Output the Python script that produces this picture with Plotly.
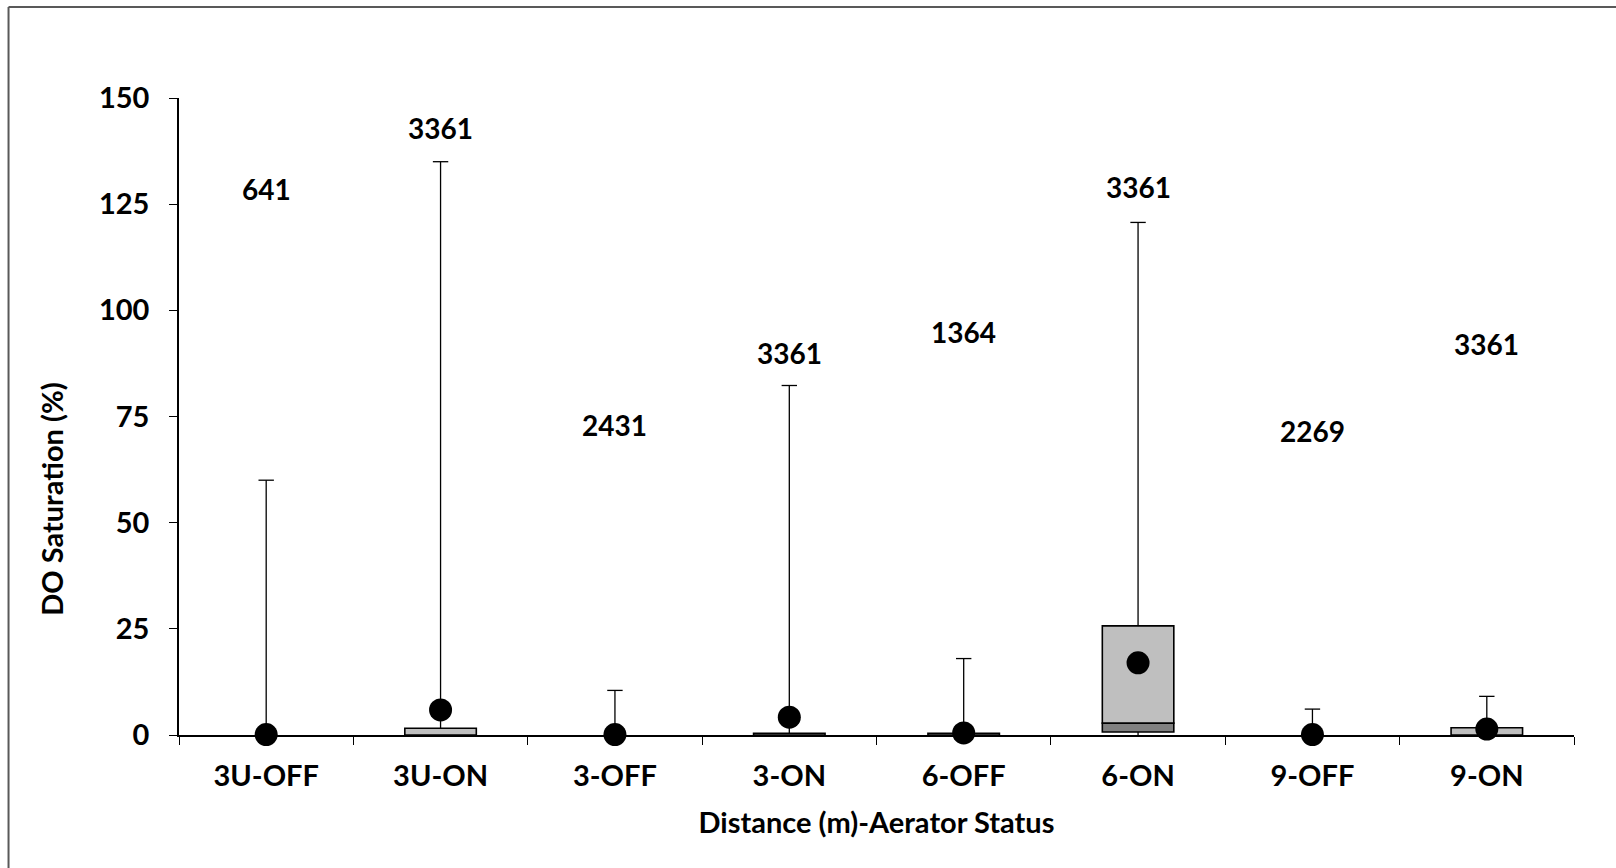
import plotly.graph_objects as go

# Box-plot summary of DO saturation (%) by distance / aerator status
categories = ["3U-OFF", "3U-ON", "3-OFF", "3-ON", "6-OFF", "6-ON", "9-OFF", "9-ON"]
minimum = [0, 0, 0, 0, 0, 0, 0, 0]
q1 = [0, 0, 0, 0, 0, 0.7, 0, 0]
median = [0, 0, 0, 0, 0, 2.8, 0, 0]
q3 = [0, 1.6, 0, 0.4, 0.4, 25.7, 0, 1.7]
maximum = [60, 135, 10.5, 82.3, 18.0, 120.7, 6.1, 9.1]
mean = [0.1, 5.9, 0.1, 4.2, 0.5, 17.0, 0.1, 1.4]
counts = ["641", "3361", "2431", "3361", "1364", "3361", "2269", "3361"]
count_label_y = [128.5, 143, 73, 90, 95, 129, 71.5, 92]

FONT = "Lato"
BLACK = "#000000"
SIZE = 29


def bold_font(size=SIZE):
    return dict(family=FONT, size=size, color=BLACK, weight="bold")


fig = go.Figure()

# Lower half of each box (Q1 -> median), darker gray
lower_h = [m - a for a, m in zip(q1, median)]
fig.add_trace(go.Bar(
    x=categories, y=[h if h > 0 else None for h in lower_h], base=q1,
    width=0.41, marker=dict(color="#808080", line=dict(color=BLACK, width=1.6)),
    hoverinfo="skip", showlegend=False,
))
# Upper half of each box (median -> Q3), light gray
upper_h = [c - m for m, c in zip(median, q3)]
fig.add_trace(go.Bar(
    x=categories, y=[h if h > 0 else None for h in upper_h], base=median,
    width=0.41, marker=dict(color="#BFBFBF", line=dict(color=BLACK, width=1.6)),
    hoverinfo="skip", showlegend=False,
))

# Whisker lines: Q3 -> max and min -> Q1
wx, wy = [], []
for c, lo, a, b, hi in zip(categories, minimum, q1, q3, maximum):
    wx += [c, c, None]
    wy += [b, hi, None]
    if a > lo:
        wx += [c, c, None]
        wy += [lo, a, None]
fig.add_trace(go.Scatter(
    x=wx, y=wy, mode="lines", line=dict(color=BLACK, width=1.3),
    hoverinfo="skip", showlegend=False, cliponaxis=False,
))
# Whisker caps at the maximum
fig.add_trace(go.Scatter(
    x=categories, y=maximum, mode="markers",
    marker=dict(symbol="line-ew", size=11, line=dict(color=BLACK, width=1.3)),
    hoverinfo="skip", showlegend=False, cliponaxis=False,
))
# Mean markers
fig.add_trace(go.Scatter(
    x=categories, y=mean, mode="markers",
    marker=dict(symbol="circle", size=23, color=BLACK),
    hoverinfo="skip", showlegend=False, cliponaxis=False,
))

# Sample-size labels
for c, n, yv in zip(categories, counts, count_label_y):
    fig.add_annotation(
        x=c, y=yv, text=n, showarrow=False, font=bold_font(28),
    )

# Y-axis title, placed as a rotated annotation
fig.add_annotation(
    xref="paper", yref="paper", x=-0.0914, y=0.37,
    xanchor="center", yanchor="middle", textangle=-90,
    text="DO Saturation (%)", showarrow=False, font=bold_font(),
)

# Outer chart frame (top and left edges)
fig.add_shape(type="line", xref="paper", yref="paper",
              x0=-0.1222, x1=1.04, y0=1.1429, y1=1.1429,
              line=dict(color="#595959", width=2))
fig.add_shape(type="line", xref="paper", yref="paper",
              x0=-0.1222, x1=-0.1222, y0=-0.22, y1=1.1429,
              line=dict(color="#595959", width=2))

fig.update_layout(
    width=1616, height=868,
    margin=dict(l=179, r=42, t=98, b=133),
    paper_bgcolor="white", plot_bgcolor="white",
    barmode="overlay",
    font=dict(family=FONT, color=BLACK),
    xaxis=dict(
        type="category", categoryorder="array", categoryarray=categories,
        range=[-0.5, 7.5], tickson="boundaries",
        ticks="outside", ticklen=8, tickwidth=1.3, tickcolor=BLACK,
        showline=True, linecolor=BLACK, linewidth=1.5, showgrid=False,
        tickfont=bold_font(), ticklabelstandoff=14,
        title=dict(text="Distance (m)-Aerator Status", font=bold_font(), standoff=22),
        layer="below traces",
    ),
    yaxis=dict(
        range=[0, 150], tickvals=[0, 25, 50, 75, 100, 125, 150],
        ticks="outside", ticklen=8, tickwidth=1.3, tickcolor=BLACK,
        showline=True, linecolor=BLACK, linewidth=1.5, showgrid=False,
        zeroline=False,
        tickfont=bold_font(), tickformat="d", ticklabelstandoff=14,
        layer="below traces",
    ),
)

fig.write_html("out.html")
